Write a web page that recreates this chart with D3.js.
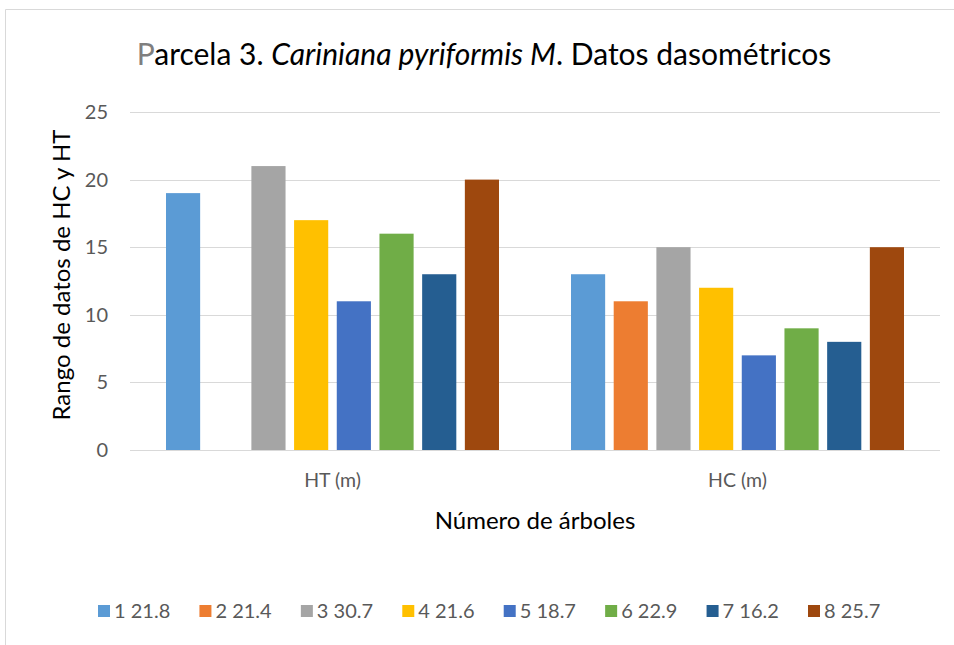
<!DOCTYPE html>
<html>
<head>
<meta charset="utf-8">
<script src="https://cdn.jsdelivr.net/npm/d3@7"></script>
<style>
  body { margin: 0; background: #fff; }
  text { font-family: Lato, "Open Sans", sans-serif; }
</style>
</head>
<body>
<div id="vis"></div>
<script>
const FRAME_WIDTH = 954;
const FRAME_HEIGHT = 645;
const MARGINS = {left: 130, right: 14, top: 112, bottom: 195};

const VIS_WIDTH = FRAME_WIDTH - MARGINS.left - MARGINS.right;
const VIS_HEIGHT = FRAME_HEIGHT - MARGINS.top - MARGINS.bottom;

// data
const categories = ["HT (m)", "HC (m)"];
const seriesNames = ["1 21.8", "2 21.4", "3 30.7", "4 21.6", "5 18.7", "6 22.9", "7 16.2", "8 25.7"];
const htValues = [19, null, 21, 17, 11, 16, 13, 20];
const hcValues = [13, 11, 15, 12, 7, 9, 8, 15];
const colors = ["#5B9BD5", "#ED7D31", "#A5A5A5", "#FFC000", "#4472C4", "#70AD47", "#255E91", "#9E480E"];
const yTicks = [0, 5, 10, 15, 20, 25];

const rows = [];
categories.forEach((c, ci) => {
  const vals = ci === 0 ? htValues : hcValues;
  seriesNames.forEach((s, si) => {
    if (vals[si] !== null) rows.push({cat: c, series: s, value: vals[si], color: colors[si]});
  });
});

const svg = d3.select("#vis")
  .append("svg")
    .attr("width", FRAME_WIDTH)
    .attr("height", FRAME_HEIGHT);

// chart border
svg.append("path")
  .attr("d", "M5.5,645 V9.5 H954")
  .attr("fill", "none")
  .attr("stroke", "#d9d9d9")
  .attr("stroke-width", 1);

const g = svg.append("g")
  .attr("transform", `translate(${MARGINS.left},${MARGINS.top})`);

const x0 = d3.scaleBand()
  .domain(categories)
  .range([0, VIS_WIDTH]);

const x1 = d3.scaleBand()
  .domain(seriesNames)
  .range([36, x0.bandwidth() - 36])
  .paddingInner(0.2);

const y = d3.scaleLinear()
  .domain([0, 25])
  .range([VIS_HEIGHT, 0]);

// gridlines
g.selectAll(".grid")
  .data(yTicks)
  .join("line")
    .attr("x1", 0)
    .attr("x2", VIS_WIDTH)
    .attr("y1", d => Math.round(y(d)) + 0.5)
    .attr("y2", d => Math.round(y(d)) + 0.5)
    .attr("stroke", "#d9d9d9")
    .attr("stroke-width", 1);

// bars
g.selectAll(".bar")
  .data(rows)
  .join("rect")
    .attr("x", d => x0(d.cat) + x1(d.series))
    .attr("y", d => y(d.value))
    .attr("width", x1.bandwidth())
    .attr("height", d => y(0) - y(d.value))
    .attr("fill", d => d.color);

// y axis labels
const yAxis = g.append("g")
  .attr("transform", "translate(-22,0)")
  .call(d3.axisLeft(y).tickValues(yTicks).tickSize(0).tickPadding(0));
yAxis.select(".domain").remove();
yAxis.selectAll("text")
  .attr("font-family", "Lato, sans-serif")
  .attr("font-size", 20)
  .attr("fill", "#595959");

// x axis labels
const xAxis = g.append("g")
  .attr("transform", `translate(0,${VIS_HEIGHT + 19})`)
  .call(d3.axisBottom(x0).tickSize(0).tickPadding(4));
xAxis.select(".domain").remove();
xAxis.selectAll("text")
  .attr("font-family", "Lato, sans-serif")
  .attr("font-size", 19.5)
  .attr("fill", "#595959");

// title
const title = svg.append("text")
  .attr("x", 484)
  .attr("y", 65)
  .attr("text-anchor", "middle")
  .attr("font-size", 30)
  .attr("fill", "#000");
title.append("tspan").attr("fill", "#7f7f7f").text("P");
title.append("tspan").text("arcela 3. ");
title.append("tspan").attr("font-style", "italic").text("Cariniana pyriformis M");
title.append("tspan").text(". Datos dasométricos");

// axis titles
svg.append("text")
  .attr("x", 535)
  .attr("y", 529)
  .attr("text-anchor", "middle")
  .attr("font-size", 24)
  .attr("fill", "#000")
  .text("Número de árboles");

svg.append("text")
  .attr("transform", "translate(70,275) rotate(-90)")
  .attr("text-anchor", "middle")
  .attr("font-size", 24)
  .attr("fill", "#000")
  .text("Rango de datos de HC y HT");

// legend
const legendX = d3.scalePoint()
  .domain(seriesNames)
  .range([98, 808]);

const legend = svg.append("g")
  .selectAll("g")
  .data(seriesNames)
  .join("g")
    .attr("transform", d => `translate(${legendX(d)},611)`);

legend.append("rect")
  .attr("x", 0)
  .attr("y", -6)
  .attr("width", 12)
  .attr("height", 12)
  .attr("fill", (d, i) => colors[i]);

legend.append("text")
  .attr("x", 16)
  .attr("y", 7)
  .attr("font-size", 20)
  .attr("fill", "#595959")
  .text(d => d);
</script>
</body>
</html>
